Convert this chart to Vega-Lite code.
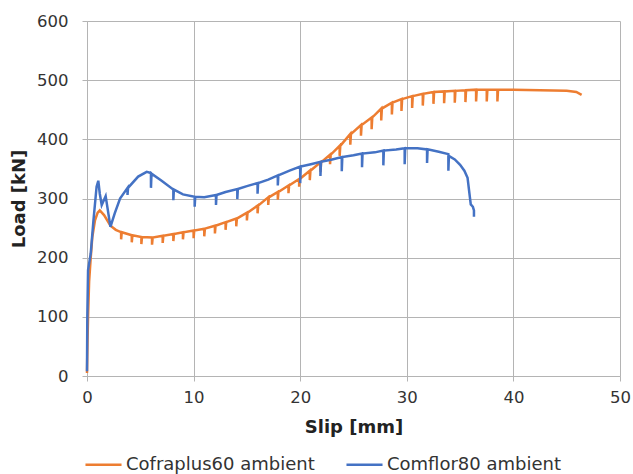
{
  "$schema": "https://vega.github.io/schema/vega-lite/v6.json",
  "width": 533,
  "height": 355,
  "autosize": {"type": "none"},
  "padding": {"left": 87, "top": 21, "right": 13, "bottom": 98},
  "background": "white",
  "config": {
    "font": "DejaVu Sans",
    "view": {"stroke": null},
    "axis": {
      "gridColor": "#b4b4b4",
      "gridWidth": 1,
      "domainColor": "#b4b4b4",
      "tickColor": "#b4b4b4",
      "tickSize": 5,
      "labelFontSize": 16.5,
      "labelColor": "#333333",
      "titleFontSize": 18,
      "titleFontWeight": "bold",
      "titleColor": "#222222"
    }
  },
  "data": {"values": [
    {"s": "Cofraplus60 ambient", "x": 0, "y": 5}, {"s": "Cofraplus60 ambient", "x": 0.05, "y": 60}, {"s": "Cofraplus60 ambient", "x": 0.1, "y": 100}, {"s": "Cofraplus60 ambient", "x": 0.2, "y": 160}, {"s": "Cofraplus60 ambient", "x": 0.35, "y": 200}, {"s": "Cofraplus60 ambient", "x": 0.5, "y": 235}, {"s": "Cofraplus60 ambient", "x": 0.75, "y": 263}, {"s": "Cofraplus60 ambient", "x": 1.0, "y": 276}, {"s": "Cofraplus60 ambient", "x": 1.2, "y": 280}, {"s": "Cofraplus60 ambient", "x": 1.6, "y": 272}, {"s": "Cofraplus60 ambient", "x": 2.2, "y": 254}, {"s": "Cofraplus60 ambient", "x": 2.7, "y": 247},
    {"s": "Cofraplus60 ambient", "x": 3.2, "y": 243}, {"s": "Cofraplus60 ambient", "x": 3.2, "y": 231}, {"s": "Cofraplus60 ambient", "x": 3.26, "y": 243},
    {"s": "Cofraplus60 ambient", "x": 4.2, "y": 238}, {"s": "Cofraplus60 ambient", "x": 4.2, "y": 226}, {"s": "Cofraplus60 ambient", "x": 4.26, "y": 238},
    {"s": "Cofraplus60 ambient", "x": 5.1, "y": 235}, {"s": "Cofraplus60 ambient", "x": 5.1, "y": 223}, {"s": "Cofraplus60 ambient", "x": 5.16, "y": 235},
    {"s": "Cofraplus60 ambient", "x": 6.1, "y": 234}, {"s": "Cofraplus60 ambient", "x": 6.1, "y": 222}, {"s": "Cofraplus60 ambient", "x": 6.16, "y": 234},
    {"s": "Cofraplus60 ambient", "x": 7.1, "y": 237}, {"s": "Cofraplus60 ambient", "x": 7.1, "y": 225}, {"s": "Cofraplus60 ambient", "x": 7.16, "y": 237},
    {"s": "Cofraplus60 ambient", "x": 8.1, "y": 240}, {"s": "Cofraplus60 ambient", "x": 8.1, "y": 228}, {"s": "Cofraplus60 ambient", "x": 8.16, "y": 240},
    {"s": "Cofraplus60 ambient", "x": 9.0, "y": 243}, {"s": "Cofraplus60 ambient", "x": 9.0, "y": 231}, {"s": "Cofraplus60 ambient", "x": 9.06, "y": 243},
    {"s": "Cofraplus60 ambient", "x": 10.0, "y": 246}, {"s": "Cofraplus60 ambient", "x": 10.0, "y": 233}, {"s": "Cofraplus60 ambient", "x": 10.06, "y": 246},
    {"s": "Cofraplus60 ambient", "x": 11.0, "y": 249}, {"s": "Cofraplus60 ambient", "x": 11.0, "y": 236}, {"s": "Cofraplus60 ambient", "x": 11.06, "y": 249},
    {"s": "Cofraplus60 ambient", "x": 12.0, "y": 254}, {"s": "Cofraplus60 ambient", "x": 12.0, "y": 241}, {"s": "Cofraplus60 ambient", "x": 12.06, "y": 254},
    {"s": "Cofraplus60 ambient", "x": 13.0, "y": 260}, {"s": "Cofraplus60 ambient", "x": 13.0, "y": 247}, {"s": "Cofraplus60 ambient", "x": 13.06, "y": 260},
    {"s": "Cofraplus60 ambient", "x": 14.0, "y": 266}, {"s": "Cofraplus60 ambient", "x": 14.0, "y": 253}, {"s": "Cofraplus60 ambient", "x": 14.06, "y": 266},
    {"s": "Cofraplus60 ambient", "x": 15.0, "y": 276}, {"s": "Cofraplus60 ambient", "x": 15.0, "y": 263}, {"s": "Cofraplus60 ambient", "x": 15.06, "y": 276},
    {"s": "Cofraplus60 ambient", "x": 16.0, "y": 288}, {"s": "Cofraplus60 ambient", "x": 16.0, "y": 275}, {"s": "Cofraplus60 ambient", "x": 16.06, "y": 288},
    {"s": "Cofraplus60 ambient", "x": 17.0, "y": 302}, {"s": "Cofraplus60 ambient", "x": 17.0, "y": 289}, {"s": "Cofraplus60 ambient", "x": 17.06, "y": 302},
    {"s": "Cofraplus60 ambient", "x": 17.9, "y": 311}, {"s": "Cofraplus60 ambient", "x": 17.9, "y": 298}, {"s": "Cofraplus60 ambient", "x": 17.96, "y": 311},
    {"s": "Cofraplus60 ambient", "x": 18.9, "y": 322}, {"s": "Cofraplus60 ambient", "x": 18.9, "y": 309}, {"s": "Cofraplus60 ambient", "x": 18.96, "y": 322},
    {"s": "Cofraplus60 ambient", "x": 19.9, "y": 333}, {"s": "Cofraplus60 ambient", "x": 19.9, "y": 320}, {"s": "Cofraplus60 ambient", "x": 19.96, "y": 333},
    {"s": "Cofraplus60 ambient", "x": 20.9, "y": 347}, {"s": "Cofraplus60 ambient", "x": 20.9, "y": 331}, {"s": "Cofraplus60 ambient", "x": 20.96, "y": 347},
    {"s": "Cofraplus60 ambient", "x": 21.9, "y": 361}, {"s": "Cofraplus60 ambient", "x": 21.9, "y": 345}, {"s": "Cofraplus60 ambient", "x": 21.96, "y": 361},
    {"s": "Cofraplus60 ambient", "x": 22.8, "y": 374}, {"s": "Cofraplus60 ambient", "x": 22.8, "y": 358}, {"s": "Cofraplus60 ambient", "x": 22.86, "y": 374},
    {"s": "Cofraplus60 ambient", "x": 23.7, "y": 389}, {"s": "Cofraplus60 ambient", "x": 23.7, "y": 372}, {"s": "Cofraplus60 ambient", "x": 23.76, "y": 389},
    {"s": "Cofraplus60 ambient", "x": 24.7, "y": 409}, {"s": "Cofraplus60 ambient", "x": 24.7, "y": 391}, {"s": "Cofraplus60 ambient", "x": 24.76, "y": 409},
    {"s": "Cofraplus60 ambient", "x": 25.7, "y": 424}, {"s": "Cofraplus60 ambient", "x": 25.7, "y": 406}, {"s": "Cofraplus60 ambient", "x": 25.76, "y": 424},
    {"s": "Cofraplus60 ambient", "x": 26.7, "y": 437}, {"s": "Cofraplus60 ambient", "x": 26.7, "y": 417}, {"s": "Cofraplus60 ambient", "x": 26.76, "y": 437},
    {"s": "Cofraplus60 ambient", "x": 27.6, "y": 452}, {"s": "Cofraplus60 ambient", "x": 27.6, "y": 432}, {"s": "Cofraplus60 ambient", "x": 27.66, "y": 452},
    {"s": "Cofraplus60 ambient", "x": 28.6, "y": 462}, {"s": "Cofraplus60 ambient", "x": 28.6, "y": 442}, {"s": "Cofraplus60 ambient", "x": 28.66, "y": 462},
    {"s": "Cofraplus60 ambient", "x": 29.5, "y": 468}, {"s": "Cofraplus60 ambient", "x": 29.5, "y": 448}, {"s": "Cofraplus60 ambient", "x": 29.56, "y": 468},
    {"s": "Cofraplus60 ambient", "x": 30.5, "y": 473}, {"s": "Cofraplus60 ambient", "x": 30.5, "y": 453}, {"s": "Cofraplus60 ambient", "x": 30.56, "y": 473},
    {"s": "Cofraplus60 ambient", "x": 31.5, "y": 477}, {"s": "Cofraplus60 ambient", "x": 31.5, "y": 457}, {"s": "Cofraplus60 ambient", "x": 31.56, "y": 477},
    {"s": "Cofraplus60 ambient", "x": 32.5, "y": 480}, {"s": "Cofraplus60 ambient", "x": 32.5, "y": 460}, {"s": "Cofraplus60 ambient", "x": 32.56, "y": 480},
    {"s": "Cofraplus60 ambient", "x": 33.5, "y": 481}, {"s": "Cofraplus60 ambient", "x": 33.5, "y": 461}, {"s": "Cofraplus60 ambient", "x": 33.56, "y": 481},
    {"s": "Cofraplus60 ambient", "x": 34.5, "y": 482}, {"s": "Cofraplus60 ambient", "x": 34.5, "y": 462}, {"s": "Cofraplus60 ambient", "x": 34.56, "y": 482},
    {"s": "Cofraplus60 ambient", "x": 35.5, "y": 483}, {"s": "Cofraplus60 ambient", "x": 35.5, "y": 463}, {"s": "Cofraplus60 ambient", "x": 35.56, "y": 483},
    {"s": "Cofraplus60 ambient", "x": 36.5, "y": 484}, {"s": "Cofraplus60 ambient", "x": 36.5, "y": 464}, {"s": "Cofraplus60 ambient", "x": 36.56, "y": 484},
    {"s": "Cofraplus60 ambient", "x": 37.5, "y": 484}, {"s": "Cofraplus60 ambient", "x": 37.5, "y": 464}, {"s": "Cofraplus60 ambient", "x": 37.56, "y": 484},
    {"s": "Cofraplus60 ambient", "x": 38.5, "y": 484}, {"s": "Cofraplus60 ambient", "x": 38.5, "y": 464}, {"s": "Cofraplus60 ambient", "x": 38.56, "y": 484},
    {"s": "Cofraplus60 ambient", "x": 40, "y": 484}, {"s": "Cofraplus60 ambient", "x": 42.5, "y": 483}, {"s": "Cofraplus60 ambient", "x": 45, "y": 482}, {"s": "Cofraplus60 ambient", "x": 45.9, "y": 480}, {"s": "Cofraplus60 ambient", "x": 46.4, "y": 475},
    {"s": "Comflor80 ambient", "x": 0, "y": 8}, {"s": "Comflor80 ambient", "x": 0.03, "y": 100}, {"s": "Comflor80 ambient", "x": 0.1, "y": 179}, {"s": "Comflor80 ambient", "x": 0.35, "y": 207}, {"s": "Comflor80 ambient", "x": 0.6, "y": 262}, {"s": "Comflor80 ambient", "x": 0.9, "y": 320}, {"s": "Comflor80 ambient", "x": 1.06, "y": 330}, {"s": "Comflor80 ambient", "x": 1.2, "y": 308}, {"s": "Comflor80 ambient", "x": 1.38, "y": 289}, {"s": "Comflor80 ambient", "x": 1.75, "y": 304}, {"s": "Comflor80 ambient", "x": 2.2, "y": 252}, {"s": "Comflor80 ambient", "x": 2.6, "y": 275}, {"s": "Comflor80 ambient", "x": 3.1, "y": 300},
    {"s": "Comflor80 ambient", "x": 3.8, "y": 318}, {"s": "Comflor80 ambient", "x": 3.8, "y": 306}, {"s": "Comflor80 ambient", "x": 3.85, "y": 318},
    {"s": "Comflor80 ambient", "x": 4.8, "y": 337}, {"s": "Comflor80 ambient", "x": 5.6, "y": 345},
    {"s": "Comflor80 ambient", "x": 6.0, "y": 343}, {"s": "Comflor80 ambient", "x": 6.0, "y": 318}, {"s": "Comflor80 ambient", "x": 6.05, "y": 342},
    {"s": "Comflor80 ambient", "x": 7, "y": 330},
    {"s": "Comflor80 ambient", "x": 8.1, "y": 315}, {"s": "Comflor80 ambient", "x": 8.1, "y": 297}, {"s": "Comflor80 ambient", "x": 8.15, "y": 315},
    {"s": "Comflor80 ambient", "x": 9, "y": 307},
    {"s": "Comflor80 ambient", "x": 10.1, "y": 303}, {"s": "Comflor80 ambient", "x": 10.1, "y": 286}, {"s": "Comflor80 ambient", "x": 10.15, "y": 303},
    {"s": "Comflor80 ambient", "x": 11, "y": 302},
    {"s": "Comflor80 ambient", "x": 12.1, "y": 306}, {"s": "Comflor80 ambient", "x": 12.1, "y": 289}, {"s": "Comflor80 ambient", "x": 12.15, "y": 306},
    {"s": "Comflor80 ambient", "x": 13, "y": 311},
    {"s": "Comflor80 ambient", "x": 14.1, "y": 316}, {"s": "Comflor80 ambient", "x": 14.1, "y": 299}, {"s": "Comflor80 ambient", "x": 14.15, "y": 316},
    {"s": "Comflor80 ambient", "x": 15, "y": 321},
    {"s": "Comflor80 ambient", "x": 16.0, "y": 326}, {"s": "Comflor80 ambient", "x": 16.0, "y": 308}, {"s": "Comflor80 ambient", "x": 16.05, "y": 326},
    {"s": "Comflor80 ambient", "x": 17, "y": 332},
    {"s": "Comflor80 ambient", "x": 17.9, "y": 339}, {"s": "Comflor80 ambient", "x": 17.9, "y": 322}, {"s": "Comflor80 ambient", "x": 17.95, "y": 339},
    {"s": "Comflor80 ambient", "x": 19, "y": 347},
    {"s": "Comflor80 ambient", "x": 20.0, "y": 354}, {"s": "Comflor80 ambient", "x": 20.0, "y": 326}, {"s": "Comflor80 ambient", "x": 20.05, "y": 354},
    {"s": "Comflor80 ambient", "x": 21, "y": 358},
    {"s": "Comflor80 ambient", "x": 21.9, "y": 362}, {"s": "Comflor80 ambient", "x": 21.9, "y": 338}, {"s": "Comflor80 ambient", "x": 21.95, "y": 362},
    {"s": "Comflor80 ambient", "x": 23, "y": 366},
    {"s": "Comflor80 ambient", "x": 23.9, "y": 370}, {"s": "Comflor80 ambient", "x": 23.9, "y": 346}, {"s": "Comflor80 ambient", "x": 23.95, "y": 370},
    {"s": "Comflor80 ambient", "x": 25, "y": 373},
    {"s": "Comflor80 ambient", "x": 25.8, "y": 376}, {"s": "Comflor80 ambient", "x": 25.8, "y": 353}, {"s": "Comflor80 ambient", "x": 25.85, "y": 376},
    {"s": "Comflor80 ambient", "x": 27, "y": 378},
    {"s": "Comflor80 ambient", "x": 27.8, "y": 381}, {"s": "Comflor80 ambient", "x": 27.8, "y": 356}, {"s": "Comflor80 ambient", "x": 27.85, "y": 381},
    {"s": "Comflor80 ambient", "x": 29, "y": 383},
    {"s": "Comflor80 ambient", "x": 29.8, "y": 385}, {"s": "Comflor80 ambient", "x": 29.8, "y": 358}, {"s": "Comflor80 ambient", "x": 29.85, "y": 385},
    {"s": "Comflor80 ambient", "x": 31, "y": 385},
    {"s": "Comflor80 ambient", "x": 31.9, "y": 383}, {"s": "Comflor80 ambient", "x": 31.9, "y": 360}, {"s": "Comflor80 ambient", "x": 31.95, "y": 383},
    {"s": "Comflor80 ambient", "x": 33, "y": 379},
    {"s": "Comflor80 ambient", "x": 33.9, "y": 375}, {"s": "Comflor80 ambient", "x": 33.9, "y": 347}, {"s": "Comflor80 ambient", "x": 33.95, "y": 372},
    {"s": "Comflor80 ambient", "x": 34.5, "y": 366}, {"s": "Comflor80 ambient", "x": 35, "y": 357}, {"s": "Comflor80 ambient", "x": 35.4, "y": 347}, {"s": "Comflor80 ambient", "x": 35.7, "y": 335}, {"s": "Comflor80 ambient", "x": 35.9, "y": 305}, {"s": "Comflor80 ambient", "x": 36.0, "y": 290}, {"s": "Comflor80 ambient", "x": 36.2, "y": 286}, {"s": "Comflor80 ambient", "x": 36.3, "y": 280}, {"s": "Comflor80 ambient", "x": 36.3, "y": 269}
  ]},
  "mark": {"type": "line", "strokeWidth": 2.5},
  "encoding": {
    "x": {
      "field": "x",
      "type": "quantitative",
      "scale": {"domain": [0, 50], "nice": false},
      "axis": {"values": [0, 10, 20, 30, 40, 50], "title": "Slip [mm]", "labelPadding": 8, "titlePadding": 13, "labelFlush": false}
    },
    "y": {
      "field": "y",
      "type": "quantitative",
      "scale": {"domain": [0, 600], "nice": false},
      "axis": {"values": [0, 100, 200, 300, 400, 500, 600], "title": "Load [kN]", "labelPadding": 14, "titlePadding": 8}
    },
    "color": {
      "field": "s",
      "type": "nominal",
      "scale": {"domain": ["Cofraplus60 ambient", "Comflor80 ambient"], "range": ["#ED7D31", "#4472C4"]},
      "legend": {
        "title": null,
        "orient": "none",
        "legendX": -3,
        "legendY": 424,
        "direction": "horizontal",
        "symbolType": "stroke",
        "symbolSize": 1300,
        "symbolStrokeWidth": 2.5,
        "labelFontSize": 18,
        "labelLimit": 400,
        "labelColor": "#333333",
        "labelOffset": 3,
        "columnPadding": 26,
        "padding": 0
      }
    },
    "detail": {"field": "s"},
    "order": {"value": null}
  }
}
